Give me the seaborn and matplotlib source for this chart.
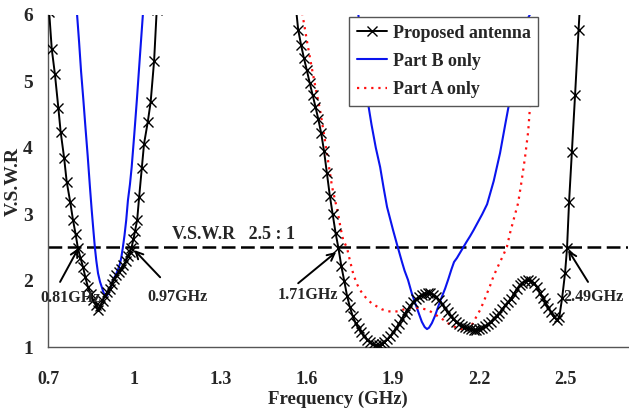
import numpy as np
import pandas as pd
import matplotlib
matplotlib.use("Agg")
import matplotlib.pyplot as plt
from matplotlib.ticker import MultipleLocator
import seaborn as sns

# ---------------- data ----------------
prop_x = [0.700, 0.704, 0.713, 0.724, 0.736, 0.744, 0.756, 0.765, 0.777, 0.787, 0.796, 0.804,
          0.813, 0.822, 0.830, 0.839, 0.848, 0.857, 0.866, 0.874, 0.882, 0.890, 0.898, 0.906,
          0.914, 0.922, 0.930, 0.938, 0.946, 0.954, 0.962, 0.970, 0.978, 0.984, 0.990, 0.997,
          1.003, 1.010, 1.017, 1.026, 1.034, 1.047, 1.057, 1.069, 1.078,
          1.560, 1.570, 1.580, 1.590, 1.600, 1.610, 1.620, 1.630, 1.640, 1.650, 1.660, 1.670,
          1.680, 1.690, 1.700, 1.710, 1.720, 1.730, 1.740, 1.750, 1.760, 1.770, 1.780, 1.790,
          1.800, 1.810, 1.820, 1.830, 1.840, 1.850, 1.860, 1.870, 1.880, 1.890, 1.900, 1.910,
          1.920, 1.930, 1.940, 1.950, 1.960, 1.970, 1.980, 1.990, 2.000, 2.010, 2.020, 2.030,
          2.040, 2.050, 2.060, 2.070, 2.080, 2.090, 2.100, 2.110, 2.120, 2.130, 2.140, 2.150,
          2.160, 2.170, 2.180, 2.190, 2.200, 2.210, 2.220, 2.230, 2.240, 2.250, 2.260, 2.270,
          2.280, 2.290, 2.300, 2.310, 2.320, 2.330, 2.340, 2.350, 2.360, 2.370, 2.380, 2.390,
          2.400, 2.410, 2.420, 2.430, 2.440, 2.450, 2.460, 2.470, 2.478, 2.488, 2.498, 2.505,
          2.512, 2.522, 2.533, 2.545, 2.552]
prop_y = [6.30, 6.05, 5.49, 5.11, 4.60, 4.24, 3.85, 3.49, 3.19, 2.91, 2.70, 2.49,
          2.34, 2.20, 2.05, 1.90, 1.80, 1.71, 1.63, 1.56, 1.62, 1.70, 1.77, 1.83,
          1.88, 1.95, 2.02, 2.08, 2.13, 2.18, 2.23, 2.29, 2.37, 2.43, 2.49, 2.62,
          2.75, 2.91, 3.26, 3.69, 4.06, 4.39, 4.69, 5.31, 6.07,
          6.20, 5.78, 5.55, 5.35, 5.17, 4.98, 4.80, 4.62, 4.43, 4.22, 3.95, 3.62,
          3.28, 3.00, 2.72, 2.49, 2.22, 2.00, 1.77, 1.60, 1.46, 1.36, 1.28, 1.22,
          1.16, 1.11, 1.07, 1.04, 1.03, 1.03, 1.05, 1.08, 1.12, 1.16, 1.22, 1.28,
          1.35, 1.42, 1.49, 1.56, 1.62, 1.68, 1.72, 1.76, 1.79, 1.80, 1.81, 1.81,
          1.79, 1.76, 1.71, 1.65, 1.58, 1.52, 1.47, 1.42, 1.38, 1.35, 1.32, 1.30,
          1.28, 1.27, 1.26, 1.26, 1.27, 1.29, 1.31, 1.34, 1.38, 1.43, 1.47, 1.51,
          1.57, 1.63, 1.68, 1.73, 1.80, 1.87, 1.93, 1.97, 2.00, 2.01, 2.00, 1.96,
          1.90, 1.82, 1.74, 1.67, 1.59, 1.52, 1.45, 1.41, 1.45, 1.74, 2.11, 2.49,
          3.18, 3.94, 4.80, 5.77, 6.30]

partb_x = [0.797, 0.800, 0.808, 0.815, 0.823, 0.830, 0.838, 0.846, 0.852, 0.858, 0.863, 0.868,
           0.874, 0.881, 0.888, 0.893, 0.898, 0.904, 0.910, 0.917, 0.923, 0.930, 0.937, 0.943,
           0.950, 0.955, 0.960, 0.966, 0.972, 0.978, 0.985, 0.991, 1.000, 1.009, 1.020, 1.031,
           1.035,
           1.775, 1.778, 1.790, 1.800, 1.813, 1.825, 1.840, 1.855, 1.867, 1.879, 1.900, 1.914,
           1.931, 1.940, 1.952, 1.965, 1.977, 1.990, 2.000, 2.010, 2.018, 2.025, 2.035, 2.046,
           2.058, 2.070, 2.081, 2.092, 2.103, 2.112, 2.122, 2.133, 2.144, 2.155, 2.168, 2.180,
           2.195, 2.210, 2.227, 2.250, 2.272, 2.290, 2.305, 2.318, 2.330, 2.342, 2.360, 2.384,
           2.395]
partb_y = [6.30, 6.07, 5.60, 5.15, 4.72, 4.32, 3.88, 3.40, 3.06, 2.75, 2.50, 2.30,
           2.11, 1.98, 1.89, 1.82, 1.78, 1.77, 1.81, 1.89, 1.96, 2.04, 2.10, 2.16,
           2.25, 2.35, 2.49, 2.68, 2.91, 3.21, 3.45, 3.71, 4.20, 4.72, 5.40, 6.07,
           6.30,
           6.30, 6.07, 5.50, 5.12, 4.67, 4.35, 4.00, 3.71, 3.40, 3.11, 2.76, 2.54,
           2.28, 2.15, 2.01, 1.81, 1.66, 1.50, 1.38, 1.30, 1.27, 1.29, 1.36, 1.47,
           1.62, 1.76, 1.88, 2.02, 2.17, 2.28, 2.34, 2.42, 2.50, 2.58, 2.67, 2.76,
           2.88, 3.00, 3.15, 3.50, 3.92, 4.35, 4.70, 5.05, 5.35, 5.62, 5.88, 6.07,
           6.30]

parta_x = [1.575, 1.583, 1.590, 1.600, 1.610, 1.620, 1.633, 1.646, 1.660, 1.674, 1.688, 1.699,
           1.709, 1.718, 1.726, 1.740, 1.750, 1.761, 1.773, 1.785, 1.796, 1.810, 1.825, 1.844,
           1.860, 1.880, 1.900, 1.920, 1.940, 1.960, 1.980, 2.000, 2.020, 2.040, 2.060, 2.075,
           2.090, 2.110, 2.130, 2.144, 2.158, 2.170, 2.178, 2.190, 2.203, 2.215, 2.227, 2.238,
           2.248, 2.260, 2.272, 2.284, 2.296, 2.307, 2.320, 2.335, 2.347, 2.359, 2.370, 2.377,
           2.383, 2.387, 2.392, 2.396]
parta_y = [6.30, 6.05, 5.88, 5.62, 5.38, 5.14, 4.85, 4.57, 4.20, 3.80, 3.41, 3.20,
           3.00, 2.78, 2.62, 2.49, 2.30, 2.11, 1.96, 1.86, 1.79, 1.72, 1.66, 1.61,
           1.57, 1.54, 1.53, 1.54, 1.57, 1.59, 1.59, 1.58, 1.56, 1.51, 1.45, 1.41,
           1.36, 1.31, 1.28, 1.26, 1.25, 1.31, 1.36, 1.46, 1.56, 1.68, 1.81, 1.93,
           2.05, 2.17, 2.28, 2.39, 2.51, 2.72, 2.93, 3.17, 3.50, 3.86, 4.25, 4.67,
           5.20, 5.77, 6.10, 6.30]

series_labels = ["Proposed antenna", "Part B only", "Part A only"]
x_major_ticks = [0.7, 1.0, 1.3, 1.6, 1.9, 2.2, 2.5]
x_tick_labels = ["0.7", "1", "1.3", "1.6", "1.9", "2.2", "2.5"]
y_ticks = [1, 2, 3, 4, 5, 6]
ref_vswr = 2.5
ref_text = "V.S.W.R   2.5 : 1"
ann_labels = ["0.81GHz", "0.97GHz", "1.71GHz", "2.49GHz"]

# ---------------- figure ----------------
sns.set_theme(style="white")
plt.rcParams["font.family"] = ["Liberation Serif", "DejaVu Serif"]
plt.rcParams["font.weight"] = "bold"

fig = plt.figure(figsize=(6.29, 4.15), dpi=100)
ax = fig.add_axes([48 / 629, 68 / 415, 580 / 629, 332 / 415])

df_p = pd.DataFrame({"x": prop_x, "y": prop_y})
df_b = pd.DataFrame({"x": partb_x, "y": partb_y})
df_a = pd.DataFrame({"x": parta_x, "y": parta_y})

sns.lineplot(data=df_p, x="x", y="y", ax=ax, color="black", lw=1.4, marker="x",
             markersize=7.5, markeredgewidth=1.0, markeredgecolor="black",
             label=series_labels[0], estimator=None, sort=False, zorder=4)
sns.lineplot(data=df_b, x="x", y="y", ax=ax, color="#0a14ee", lw=1.5,
             label=series_labels[1], estimator=None, sort=False, zorder=3)
sns.lineplot(data=df_a, x="x", y="y", ax=ax, color="#ff1010", lw=1.6,
             linestyle=(0, (1, 2.2)), label=series_labels[2], estimator=None,
             sort=False, zorder=3)

ax.axhline(ref_vswr, color="black", lw=1.8, dashes=(5.5, 2.2), zorder=2)

ax.set_xlim(0.7, 2.717)
ax.set_ylim(1, 6)

ax.set_xticks(x_major_ticks)
ax.set_xticklabels(x_tick_labels)
ax.xaxis.set_minor_locator(MultipleLocator(0.1))
ax.set_yticks(y_ticks)

for s in ["top", "right"]:
    ax.spines[s].set_visible(False)
for s in ["left", "bottom"]:
    ax.spines[s].set_color("#555555")
    ax.spines[s].set_linewidth(1.0)

ax.tick_params(axis="x", which="both", direction="in", length=4, width=0.9,
               color="#555555", pad=17, labelsize=13)
ax.tick_params(axis="y", which="both", direction="in", length=4, width=0.9,
               color="#555555", pad=11, labelsize=14)
for lab in ax.get_xticklabels() + ax.get_yticklabels():
    lab.set_fontweight("bold")

ax.set_xlabel("Frequency (GHz)", fontsize=13.5, fontweight="bold", labelpad=2)
ax.set_ylabel("V.S.W.R", fontsize=14, fontweight="bold", labelpad=1)

ax.text(1.131, 2.57, ref_text, fontsize=13, fontweight="bold", ha="left", va="bottom")

# annotations: (label, text position, arrow tail, arrow head)
ann_text_pos = [(0.672, 1.74), (1.044, 1.75), (1.500, 1.78), (2.491, 1.75)]
ann_tail = [(0.742, 1.98), (1.090, 2.05), (1.570, 1.96), (2.578, 1.98)]
ann_head = [(0.806, 2.49), (1.000, 2.46), (1.702, 2.43), (2.509, 2.46)]
for lab, tp, tl, hd in zip(ann_labels, ann_text_pos, ann_tail, ann_head):
    ax.text(tp[0], tp[1], lab, fontsize=11.5, fontweight="bold", ha="left",
            va="center", clip_on=False, zorder=6)
    ax.annotate("", xy=hd, xytext=tl,
                arrowprops=dict(arrowstyle="->", color="black", lw=1.4,
                                mutation_scale=13, shrinkA=0, shrinkB=0),
                zorder=6)

leg = ax.legend(loc="upper left", bbox_to_anchor=(349 / 629, 1 - 17 / 415),
                bbox_transform=fig.transFigure, frameon=True, fancybox=False,
                edgecolor="#555555", framealpha=1, facecolor="white",
                prop={"family": "Liberation Serif", "weight": "bold", "size": 13},
                handlelength=1.7, handletextpad=0.3, labelspacing=0.62,
                borderpad=0.42, borderaxespad=0)
leg.get_frame().set_linewidth(1.0)
leg.set_zorder(10)

fig.savefig("out.png", dpi=100, facecolor="white")
